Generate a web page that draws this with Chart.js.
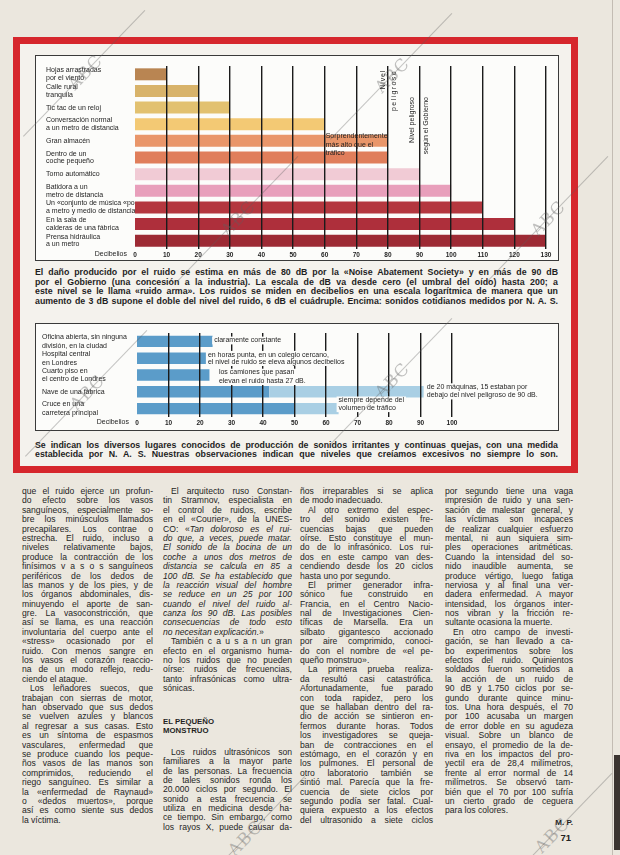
<!DOCTYPE html>
<html lang="es"><head><meta charset="utf-8">
<script src="https://cdn.jsdelivr.net/npm/chart.js@4.4.1/dist/chart.umd.min.js"></script>
<style>
*{box-sizing:border-box}
html,body{margin:0;padding:0}
body{width:620px;height:855px;position:relative;overflow:hidden;background:#ebe7de;font-family:"Liberation Sans",Arial,sans-serif;color:#252525}
#frame{position:absolute;left:13px;top:37px;width:565px;height:436px;border:7px solid #d6272d;background:#f4f2ed}
.box{position:absolute;left:35px;width:524px;border:1px solid #3a3a3a;background:#fcfcfa}
#box1{top:55px;height:206px}
#box2{top:323px;height:108px}
.box canvas{position:absolute;left:0;top:0}
.cap{position:absolute;left:35px;width:523px;font-weight:bold;font-size:8.8px;line-height:9.4px;color:#1f1f1f}
.cap div,.ln{text-align:justify;text-align-last:justify;white-space:normal}
.col{position:absolute;top:487px;font-size:8.6px;line-height:9.4px;color:#1f1f1f}
.ln{height:9.4px}
.ln.i{text-indent:8px}
.ln.e{text-align-last:left}
.ln.h{font-weight:bold;text-align-last:left;font-size:7.8px}
.sig{position:absolute;font-weight:bold;color:#222;text-align:right}
.wm{position:absolute;font-family:"DejaVu Serif",serif;font-size:17px;color:rgba(95,95,95,0.38);transform:translate(-50%,-50%) rotate(-46deg);white-space:nowrap;letter-spacing:1px}
.wl{position:absolute;height:1px;background:rgba(95,95,95,0.35);transform-origin:0 0}
#edge{position:absolute;left:614px;top:755px;width:6px;height:95px;background:#3b3430}
#pedge{position:absolute;left:612px;top:0;width:1px;height:855px;background:rgba(120,110,100,0.35)}
</style></head>
<body>
<div id="frame"></div>
<div class="box" id="box1"><canvas id="c1" width="522" height="204" style="width:522px;height:204px"></canvas></div>
<div class="cap" style="top:268.3px">
<div>El daño producido por el ruido se estima en más de 80 dB por la «Noise Abatement Society» y en más de 90 dB</div>
<div>por el Gobierno (una concesión a la industria). La escala de dB va desde cero (el umbral del oído) hasta 200; a</div>
<div>este nivel se le llama «ruido arma». Los ruidos se miden en decibelios en una escala logarítmica de manera que un</div>
<div>aumento de 3 dB supone el doble del nivel del ruido, 6 dB el cuádruple. Encima: sonidos cotidianos medidos por N. A. S.</div>
</div>
<div class="box" id="box2"><canvas id="c2" width="522" height="106" style="width:522px;height:106px"></canvas></div>
<div class="cap" style="top:440.5px;line-height:9px">
<div>Se indican los diversos lugares conocidos de producción de sonidos irritantes y continuas quejas, con una medida</div>
<div>establecida por N. A. S. Nuestras observaciones indican que niveles que creíamos excesivos no siempre lo son.</div>
</div>
<div class="col" id="col1" style="left:22px;width:131px"></div>
<div class="col" id="col2" style="left:163px;width:129px"></div>
<div class="col" id="col3" style="left:300px;width:133px"></div>
<div class="col" id="col4" style="left:445px;width:128px"></div>
<div class="sig" style="left:500px;width:73px;top:818px;font-size:8px">M. P.</div>
<div class="sig" style="left:500px;width:71px;top:832px;font-size:9.5px">71</div>
<div id="pedge"></div>
<div id="edge"></div>
<script>
Chart.defaults.font.family='"Liberation Sans", Arial, sans-serif';
Chart.defaults.color='#1e1e1e';

// ---- Chart 1: everyday sounds (dB) ----
const soundLabels=[
 ["Hojas arrastradas","por el viento"],
 ["Calle rural","tranquila"],
 ["Tic tac de un reloj"],
 ["Conversación normal","a un metro de distancia"],
 ["Gran almacén"],
 ["Dentro de un","coche pequeño"],
 ["Torno automático"],
 ["Batidora a un","metro de distancia"],
 ["Un «conjunto de música «pop»","a metro y medio de distancia"],
 ["En la sala de","calderas de una fábrica"],
 ["Prensa hidráulica","a un metro"]
];
const soundDb=[10,20,30,60,80,80,90,100,110,120,130];
const soundColors=['#b98552','#d8b36a','#e2c170','#f3c974','#e9966a','#e07e5b','#f1cbd5','#e89fbb','#b4373f','#ae2f3b','#9d2a34'];
const dbTicksTop=[0,10,20,30,40,50,60,70,80,90,100,110,120,130];

// ---- Chart 2: places (dB) ----
const placeLabels=[
 ["Oficina abierta, sin ninguna","división, en la ciudad"],
 ["Hospital central","en Londres"],
 ["Cuarto piso en","el centro de Londres"],
 ["Nave de una fábrica"],
 ["Cruce en una","carretera principal"]
];
const placeTypicalDb=[24,22,23,42,50];
const placePeakDb=[24,22,23,91,64];
const dbTicksBottom=[0,10,20,30,40,50,60,70,80,90,100];

const FONT='"Liberation Sans", Arial, sans-serif';

const topNotes={id:'topNotes',afterDraw(chart){
 const {ctx,scales:{x,y}}=chart;
 ctx.save();
 ctx.fillStyle='#1e1e1e';
 ctx.font='7px '+FONT;
 ctx.textAlign='right';ctx.textBaseline='top';
 ctx.fillText('Decibelios',x.left-8,x.top+2);
 ctx.textAlign='left';ctx.textBaseline='middle';
 const sx=x.getPixelForValue(60)+1,sy=y.getPixelForValue(4)-4.5;
 ['Sorprendentemente','más alto que el','tráfico'].forEach((t,i)=>ctx.fillText(t,sx,sy+i*8.5));
 const vt=(t,px,top,ls)=>{ctx.save();ctx.translate(px,top);ctx.rotate(-Math.PI/2);ctx.textAlign='right';ctx.textBaseline='middle';ctx.letterSpacing=ls||'0px';ctx.fillText(t,0,0);ctx.restore();};
 const x80=x.getPixelForValue(80),x90=x.getPixelForValue(90);
 vt('Nivel',x80-5,y.top+4,'0.8px');
 vt('peligroso',x80+6,y.top+4,'1.4px');
 vt('Nivel peligroso',x90-7,y.top+31);
 vt('según el Gobierno',x90+7,y.top+31);
 ctx.restore();
}};

const bottomNotes={id:'bottomNotes',afterDraw(chart){
 const {ctx,scales:{x,y}}=chart;
 ctx.save();
 ctx.font='7px '+FONT;
 ctx.fillStyle='#1e1e1e';
 ctx.textAlign='right';ctx.textBaseline='top';
 ctx.fillText('Decibelios',x.left-8,x.top+2);
 ctx.textAlign='left';ctx.textBaseline='middle';
 const block=(lines,v,row,offs)=>{
  const px=x.getPixelForValue(v),cy=y.getPixelForValue(row);
  const w=Math.max(...lines.map(l=>ctx.measureText(l).width));
  const top=cy+offs[0]-3.8,bot=cy+offs[offs.length-1]+4;
  ctx.fillStyle='#fcfcfa';ctx.fillRect(px-2,top,w+4,bot-top);
  ctx.fillStyle='#1e1e1e';
  lines.forEach((l,i)=>ctx.fillText(l,px,cy+offs[i]));
 };
 block(['claramente constante'],24.5,0,[-1]);
 block(['en horas punta, en un colegio cercano,','el nivel de ruido se eleva algunos decibelios'],22.5,1,[-3.5,3.8]);
 block(['los camiones que pasan','elevan el ruido hasta 27 dB.'],26,2,[-2.5,6]);
 block(['de 20 máquinas, 15 estaban por','debajo del nivel peligroso de 90 dB.'],92,3,[-4.7,3.6]);
 block(['siempre depende del','volumen de tráfico'],64,4,[-8.3,-0.5]);
 ctx.restore();
}};

new Chart(document.getElementById('c1'),{
 type:'bar',
 data:{labels:soundLabels,datasets:[{data:soundDb,backgroundColor:soundColors,borderWidth:0,barPercentage:0.72,categoryPercentage:1}]},
 options:{
  indexAxis:'y',responsive:false,animation:false,
  layout:{padding:{left:10,right:12,top:10,bottom:1}},
  plugins:{legend:{display:false},tooltip:{enabled:false}},
  scales:{
   x:{type:'linear',min:0,max:130,
      afterBuildTicks:s=>{s.ticks=dbTicksTop.map(v=>({value:v}));},
      ticks:{font:{size:6.5,weight:'bold'},color:'#1e1e1e',padding:2,maxRotation:0,autoSkip:false},
      grid:{z:1,color:'#1b1b1b',lineWidth:c=>c.tick&&c.tick.value===0?0:1.4,drawTicks:false},
      border:{display:false},
      afterFit:s=>{s.height=10;}},
   y:{ticks:{z:1,crossAlign:'far',autoSkip:false,font:{size:7,lineHeight:1.1},color:'#1e1e1e',padding:0},
      grid:{display:false},border:{display:false},
      afterFit:s=>{s.width=89;}}
  }
 },
 plugins:[topNotes]
});

new Chart(document.getElementById('c2'),{
 type:'bar',
 data:{labels:placeLabels,datasets:[
  {data:placeLabels.map((_,i)=>[placeTypicalDb[i],placePeakDb[i]]),backgroundColor:'#a9cfe4',borderWidth:0,barPercentage:0.68,categoryPercentage:1,grouped:false,borderSkipped:false},
  {data:placeTypicalDb,backgroundColor:'#5b9cc9',borderWidth:0,barPercentage:0.68,categoryPercentage:1,grouped:false}
 ]},
 options:{
  indexAxis:'y',responsive:false,animation:false,
  layout:{padding:{left:6,right:106,top:9,bottom:3}},
  plugins:{legend:{display:false},tooltip:{enabled:false}},
  scales:{
   x:{type:'linear',min:0,max:100,
      afterBuildTicks:s=>{s.ticks=dbTicksBottom.map(v=>({value:v}));},
      ticks:{font:{size:6.5,weight:'bold'},color:'#1e1e1e',padding:2,maxRotation:0,autoSkip:false},
      grid:{z:1,color:'#1b1b1b',lineWidth:c=>c.tick&&c.tick.value===0?0:1.4,drawTicks:false},
      border:{display:false},
      afterFit:s=>{s.height=10;}},
   y:{ticks:{z:1,crossAlign:'far',autoSkip:false,font:{size:7,lineHeight:1.25},color:'#1e1e1e',padding:0},
      grid:{display:false},border:{display:false},
      afterFit:s=>{s.width=95;}}
  }
 },
 plugins:[bottomNotes]
});

// ---- Article text ----
const col1Lines=[
"que el ruido ejerce un profun-","do efecto sobre los vasos","sanguíneos, especialmente so-","bre los minúsculos llamados","precapilares. Los contrae o","estrecha. El ruido, incluso a","niveles relativamente bajos,","produce la contracción de los","finísimos v a s o s sanguíneos","periféricos de los dedos de","las manos y de los pies, y de","los órganos abdominales, dis-","minuyendo el aporte de san-","gre. La vasoconstricción, que","así se llama, es una reacción","involuntaria del cuerpo ante el","«stress» ocasionado por el","ruido. Con menos sangre en","los vasos el corazón reaccio-","na de un modo reflejo, redu-","ciendo el ataque.|",
">Los leñadores suecos, que","trabajan con sierras de motor,","han observado que sus dedos","se vuelven azules y blancos","al regresar a sus casas. Esto","es un síntoma de espasmos","vasculares, enfermedad que","se produce cuando los peque-","ños vasos de las manos son","comprimidos, reduciendo el","riego sanguíneo. Es similar a","la «enfermedad de Raynaud»","o «dedos muertos», porque","así es como siente sus dedos","la víctima.|"];
const col2Lines=[
">El arquitecto ruso Constan-","tin Stramnov, especialista en","el control de ruidos, escribe","en el «Courier», de la UNES-","CO: «<i>Tan doloroso es el rui-</i>","<i>do que, a veces, puede matar.</i>","<i>El sonido de la bocina de un</i>","<i>coche a unos dos metros de</i>","<i>distancia se calcula en 85 a</i>","<i>100 dB. Se ha establecido que</i>","<i>la reacción visual del hombre</i>","<i>se reduce en un 25 por 100</i>","<i>cuando el nivel del ruido al-</i>","<i>canza los 90 dB. Las posibles</i>","<i>consecuencias de todo esto</i>","<i>no necesitan explicación.</i>»|",
">También c a u s a n un gran","efecto en el organismo huma-","no los ruidos que no pueden","oírse: ruidos de frecuencias,","tanto infrasónicas como ultra-","sónicas.|",
"~23.2","#EL PEQUEÑO","#MONSTRUO","~12.2",
">Los ruidos ultrasónicos son","familiares a la mayor parte","de las personas. La frecuencia","de tales sonidos ronda los","20.000 ciclos por segundo. El","sonido a esta frecuencia se","utiliza en medicina desde ha-","ce tiempo. Sin embargo, como","los rayos X, puede causar da-"];
const col3Lines=[
"ños irreparables si se aplica","de modo inadecuado.|",
">Al otro extremo del espec-","tro del sonido existen fre-","cuencias bajas que pueden","oírse. Esto constituye el mun-","do de lo infrasónico. Los rui-","dos en este campo van des-","cendiendo desde los 20 ciclos","hasta uno por segundo.|",
">El primer generador infra-","sónico fue construido en","Francia, en el Centro Nacio-","nal de Investigaciones Cien-","tíficas de Marsella. Era un","silbato gigantesco accionado","por aire comprimido, conoci-","do con el nombre de «el pe-","queño monstruo».|",
">La primera prueba realiza-","da resultó casi catastrófica.","Afortunadamente, fue parado","con toda rapidez, pero los","que se hallaban dentro del ra-","dio de acción se sintieron en-","fermos durante horas. Todos","los investigadores se queja-","ban de contracciones en el","estómago, en el corazón y en","los pulmones. El personal de","otro laboratorio también se","sintió mal. Parecía que la fre-","cuencia de siete ciclos por","segundo podía ser fatal. Cual-","quiera expuesto a los efectos","del ultrasonido a siete ciclos"];
const col4Lines=[
"por segundo tiene una vaga","impresión de ruido y una sen-","sación de malestar general, y","las víctimas son incapaces","de realizar cualquier esfuerzo","mental, ni aun siquiera sim-","ples operaciones aritméticas.","Cuando la intensidad del so-","nido inaudible aumenta, se","produce vértigo, luego fatiga","nerviosa y al final una ver-","dadera enfermedad. A mayor","intensidad, los órganos inter-","nos vibran y la fricción re-","sultante ocasiona la muerte.|",
">En otro campo de investi-","gación, se han llevado a ca-","bo experimentos sobre los","efectos del ruido. Quinientos","soldados fueron sometidos a","la acción de un ruido de","90 dB y 1.750 ciclos por se-","gundo durante quince minu-","tos. Una hora después, el 70","por 100 acusaba un margen","de error doble en su agudeza","visual. Sobre un blanco de","ensayo, el promedio de la de-","riva en los impactos del pro-","yectil era de 28,4 milímetros,","frente al error normal de 14","milímetros. Se observó tam-","bién que el 70 por 100 sufría","un cierto grado de ceguera","para los colores.|"];

function buildCol(id,lines){
 const el=document.getElementById(id);
 lines.forEach(s=>{
  const d=document.createElement('div');
  if(s.startsWith('~')){d.style.height=s.slice(1)+'px';el.appendChild(d);return;}
  d.className='ln';
  if(s.startsWith('#')){d.classList.add('h');s=s.slice(1);}
  if(s.startsWith('>')){d.classList.add('i');s=s.slice(1);}
  if(s.endsWith('|')){d.classList.add('e');s=s.slice(0,-1);}
  d.innerHTML=s;el.appendChild(d);
 });
}
buildCol('col1',col1Lines);buildCol('col2',col2Lines);buildCol('col3',col3Lines);buildCol('col4',col4Lines);
function fitLines(){
 document.querySelectorAll('.ln,.cap div').forEach(d=>{
  d.style.height='auto';
  let ls=0,n=0;
  while(d.offsetHeight>13&&n<60){ls-=0.05;n++;d.style.letterSpacing=ls+'px';}
  if(d.classList.contains('ln'))d.style.height='9.4px';
 });
}
fitLines();

// ---- archive watermarks ----
const marks=[[85,72],[238,218],[392,75],[548,218],[87,392],[392,380],[552,835],[245,838]];
marks.forEach(([cx,cy])=>{
 const t=document.createElement('div');t.className='wm';t.textContent='ABC';t.style.left=cx+'px';t.style.top=cy+'px';document.body.appendChild(t);
 const l=document.createElement('div');l.className='wl';l.style.left=(cx-62)+'px';l.style.top=(cy+64)+'px';l.style.width='175px';l.style.transform='rotate(-46deg)';document.body.appendChild(l);
});
</script>
</body></html>
